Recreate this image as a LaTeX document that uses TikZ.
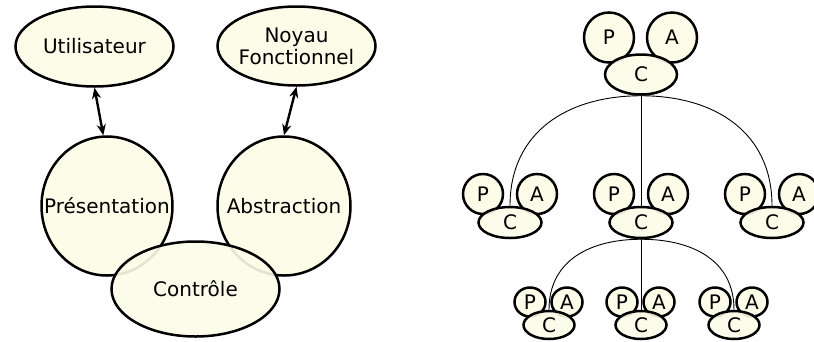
\documentclass[tikz,border=0pt]{standalone}
\usepackage{fontspec}
\setmainfont{DejaVu Sans}
\usetikzlibrary{shapes.geometric,arrows.meta,backgrounds}
\definecolor{cream}{RGB}{252,252,232}
\begin{document}
\begin{tikzpicture}[x=1pt,y=-1pt,
  font=\fontsize{20}{22}\selectfont,
  blob/.style={ellipse, draw=black, line width=2.5pt, fill=cream, inner sep=0pt},
  ontop/.style={fill opacity=0.9},
  dbl/.style={line width=2.4pt, {Stealth[length=11pt,width=9pt]}-{Stealth[length=11pt,width=9pt]}},
  link/.style={line width=0.9pt, draw=black},
  Pbig/.style={blob, minimum width=50pt, minimum height=50pt},
  Cbig/.style={blob, ontop, minimum width=72pt, minimum height=40pt},
  Pmed/.style={blob, minimum width=40pt, minimum height=40pt},
  Cmed/.style={blob, ontop, minimum width=63pt, minimum height=31pt},
  Psml/.style={blob, minimum width=31pt, minimum height=29pt},
  Csml/.style={blob, ontop, minimum width=51pt, minimum height=28pt}]
\useasboundingbox (0,0) rectangle (814,341);

% ---------- left diagram ----------
\node[blob, minimum width=158pt, minimum height=80pt, label=center:Utilisateur] (util) at (94.5,46.5) {};
\node[blob, minimum width=158pt, minimum height=79pt, label={[align=center]center:{Noyau\\Fonctionnel}}] (noyau) at (296.5,46) {};
\node[blob, minimum width=131pt, minimum height=139pt, label=center:Présentation] (pres) at (107,206) {};
\node[blob, minimum width=133pt, minimum height=139pt, label=center:Abstraction] (abs) at (284,206) {};
\node[blob, ontop, minimum width=168pt, minimum height=95pt, label=center:Contrôle] (ctrl) at (195.5,289) {};
\draw[dbl] (util.south) -- (pres.93);
\draw[dbl] (noyau.south) -- (abs.north);

% ---------- right diagram ----------
% top
\node[Pbig, label=center:P] (p0) at (609,37.5) {};
\node[Pbig, label=center:A] (a0) at (672,37.5) {};
\node[Cbig, label=center:C] (c0) at (641,74.5) {};
% middle row
\node[Pmed, label=center:P] (p1) at (483,194) {};
\node[Pmed, label=center:A] (a1) at (537,194) {};
\node[Cmed, label=center:C] (c1) at (510,222.5) {};
\node[Pmed, label=center:P] (p2) at (614,194) {};
\node[Pmed, label=center:A] (a2) at (668,194) {};
\node[Cmed, label=center:C] (c2) at (641,222.5) {};
\node[Pmed, label=center:P] (p3) at (745,194) {};
\node[Pmed, label=center:A] (a3) at (799,194) {};
\node[Cmed, label=center:C] (c3) at (772,222.5) {};
% bottom row
\node[Psml, label=center:P] (p4) at (530,302) {};
\node[Psml, label=center:A] (a4) at (567,302) {};
\node[Csml, label=center:C] (c4) at (549,325) {};
\node[Psml, label=center:P] (p5) at (622,302) {};
\node[Psml, label=center:A] (a5) at (659,302) {};
\node[Csml, label=center:C] (c5) at (641,325) {};
\node[Psml, label=center:P] (p6) at (715,302) {};
\node[Psml, label=center:A] (a6) at (752,302) {};
\node[Csml, label=center:C] (c6) at (734,325) {};

\begin{scope}[on background layer]
\draw[link] (c0.south) -- (c2.north);
\draw[link] (c0.south) to[out=180,in=90,looseness=1.1] (c1.north);
\draw[link] (c0.south) to[out=0,in=90,looseness=1.1] (c3.north);
\draw[link] (c2.south) -- (c5.north);
\draw[link] (c2.south) to[out=180,in=90,looseness=1.1] (c4.north);
\draw[link] (c2.south) to[out=0,in=90,looseness=1.1] (c6.north);
\end{scope}
\end{tikzpicture}
\end{document}
